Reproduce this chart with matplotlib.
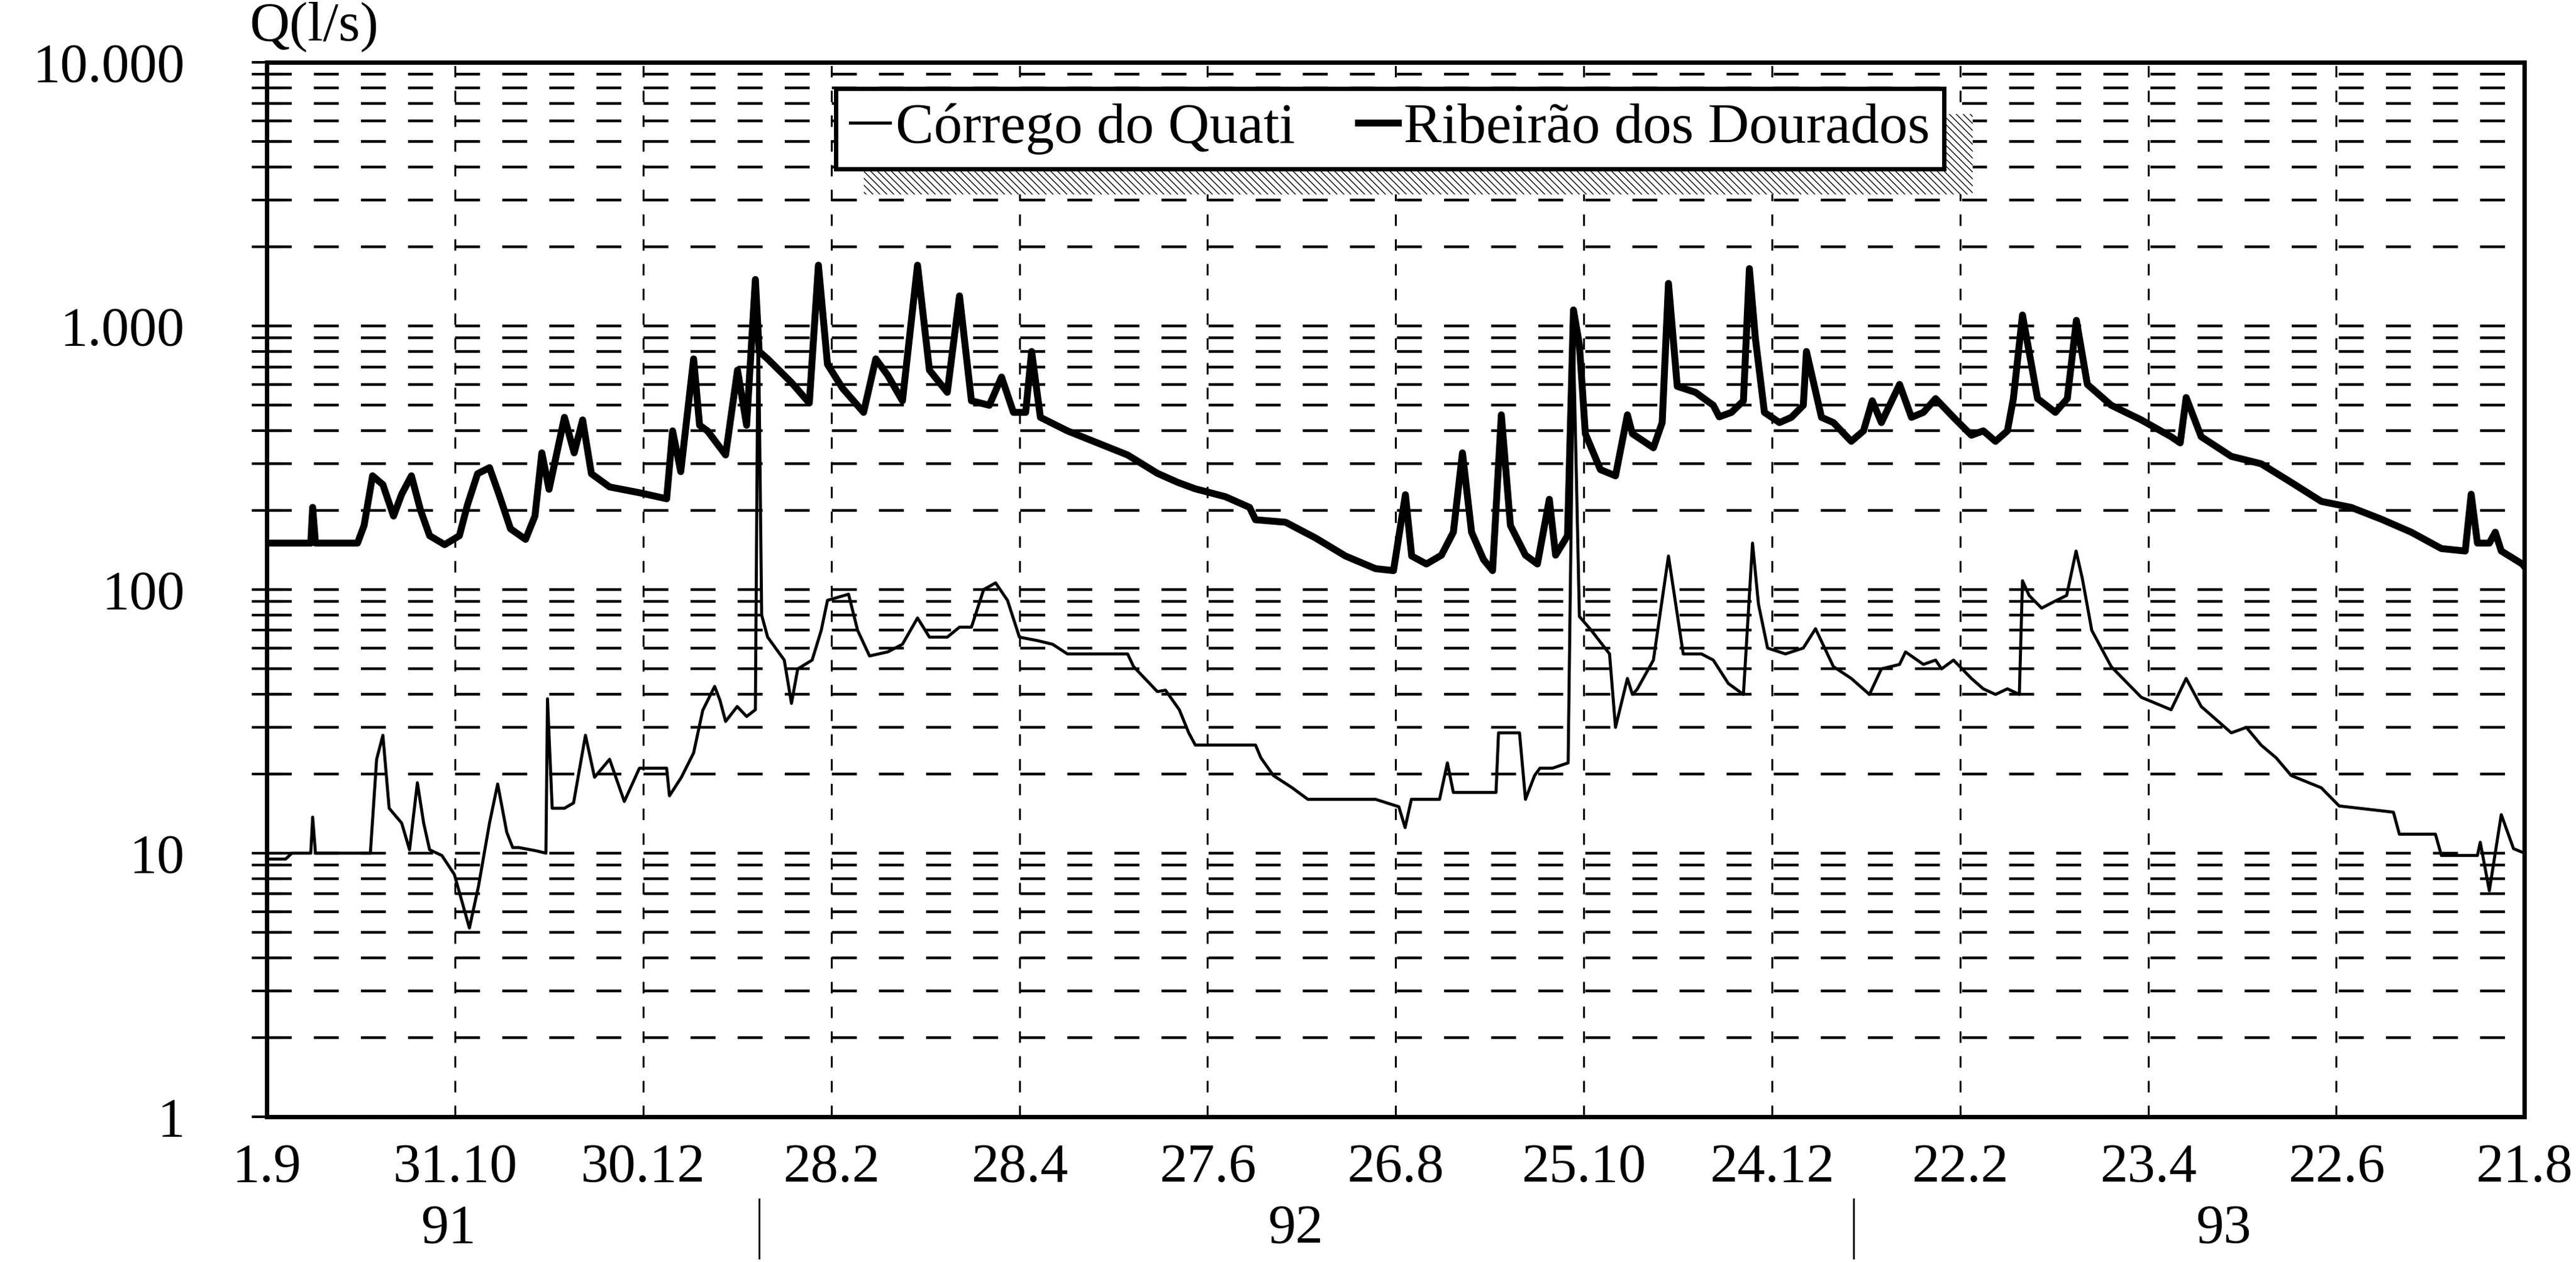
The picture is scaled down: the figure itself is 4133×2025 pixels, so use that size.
import matplotlib.pyplot as plt
import matplotlib.ticker as mticker
from matplotlib.lines import Line2D
from matplotlib.patches import Rectangle
from matplotlib.transforms import blended_transform_factory

plt.rcParams['font.family'] = ['Liberation Serif', 'DejaVu Serif']

# days counted from 1.9.1991
rib_days = [0, 12, 14, 14.6, 15.5, 28.9, 31, 33.7, 37, 40.4, 43, 46.1, 49, 51.9, 56.7,
            61.4, 64, 67.2, 71, 74, 77.7, 82.5, 85.5, 87.7, 90, 94.9, 98, 100.7, 103.5,
            109.3, 118.8, 127.5, 129.4, 132, 136.1, 138, 140.5, 146.3, 150.1, 153, 155.8,
            157, 159.7, 167.3, 173, 175.9, 178.8, 183.6, 190.3, 194.2, 198, 202.7, 207.5,
            211.3, 217, 220.9, 224.7, 230.4, 234.3, 238.1, 242, 243.9, 246.7, 255.3,
            264.9, 274.5, 284, 290.5, 296.1, 305.7, 313.4, 315.3, 324.9, 334.4, 344,
            353.6, 359.3, 363.1, 365.1, 369.8, 374.6, 378.4, 381.3, 384.2, 388, 390.9,
            393.7, 396.6, 401.4, 405.2, 409, 411, 414.8, 416.7, 418.6, 420.5, 425.3,
            430.1, 433.9, 435.5, 442.2, 445, 447, 449.8, 455.6, 461.3, 463.2, 467.1,
            470.9, 472.8, 474.7, 477.6, 482.4, 486.2, 490, 491, 495.8, 499.6, 505.3,
            509.2, 512, 514.9, 520.7, 524.5, 528.3, 532.2, 537.9, 543.6, 547.4, 551.3,
            555.1, 557, 559.9, 564.7, 570.4, 574.2, 577.1, 580.6, 588.2, 597.8, 607.3,
            610.2, 612.1, 616.9, 626.5, 636, 645.6, 655.2, 664.7, 674.3, 683.9, 693.5,
            701.1, 703, 705, 708.8, 710.7, 712.6, 719.3, 720]
rib_q = [150, 150, 150, 205, 150, 150, 175, 270, 250, 190, 230, 270, 200, 160, 148,
         160, 210, 275, 290, 230, 170, 155, 190, 330, 240, 450, 330, 440, 275,
         245, 233, 221, 400, 280, 750, 420, 400, 324, 680, 420, 1500,
         800, 750, 610, 510, 1700, 715, 580, 470, 750, 650, 520, 1700,
         680, 560, 1300, 520, 500, 640, 470, 470, 800, 450, 400,
         360, 324, 276, 255, 241, 225, 205, 184, 180, 157, 134,
         120, 118, 229, 134, 125, 135, 165, 330, 165, 130, 118,
         460, 175, 135, 125, 220, 135, 160, 1150, 850, 390, 285,
         270, 460, 390, 345, 430, 1450, 590, 560, 500, 452, 470,
         520, 1650, 900, 470, 430, 450, 500, 800, 450, 430, 365,
         400, 520, 430, 600, 450, 470, 530, 450, 385, 400, 365,
         400, 530, 1100, 530, 470, 530, 1050, 600, 500, 440, 380,
         360, 535, 380, 320, 300, 255, 216, 205, 185, 165, 143,
         140, 230, 150, 150, 165, 140, 125, 122]

qua_days = [0, 6, 8, 14, 14.6, 15.5, 33, 35, 37, 39, 43, 45.5, 48, 50, 51.9, 55.8,
            59.8, 64.6, 67.5, 71, 73.6, 76.5, 78.4, 80.4, 86, 89, 89.5, 91, 94.9, 97.8,
            101.6, 104.5, 109.3, 114, 118.8, 127.5, 128.4, 132.2, 136.1, 139, 142.8,
            144.5, 146.3, 150, 153, 155.8, 156.7, 157.8, 159.7, 165, 167.3, 169.3,
            173.9, 176.8, 178.8, 185.5, 188.4, 192.2, 198, 202.7, 207.5, 211.3, 217,
            220.9, 224.7, 228.6, 232.4, 236.2, 240, 245.8, 250.6, 255.3, 264.9, 274.5,
            276.4, 284, 286.6, 291, 294, 296.1, 315.3, 317, 321, 327, 332, 353.6, 361,
            363, 365, 374, 376.5, 378.4, 382, 392, 392.8, 399.5, 401.4, 404.3, 406,
            410, 415, 416.7, 418.6, 422.4, 428.2, 430.1, 433.9, 435.5, 437, 442.2, 447,
            451.7, 457.5, 461.3, 466.1, 470.9, 473.8, 475.7, 478.6, 484.3, 490, 493.9,
            499.6, 505.3, 511.1, 514.9, 520.7, 522.6, 528.3, 532.2, 534.1, 537.9,
            543.6, 547.4, 551.3, 555.1, 558.9, 559.9, 562, 566, 570, 574, 577, 579,
            582, 588.2, 597.8, 607.3, 612.1, 616.9, 626.5, 631.3, 636, 640.8, 645.6,
            655.2, 660.9, 678.2, 680.1, 691.6, 693.5, 705, 705.9, 708.8, 712.6, 716.5,
            720]
qua_q = [9.5, 9.5, 10, 10, 13.7, 10, 10, 22.7, 28, 14.8, 13, 10.3, 18.5, 13, 10.3, 9.8,
         8.3, 5.2, 7.5, 13, 18.3, 12, 10.5, 10.5, 10.2, 10, 38.5, 14.8, 14.8, 15.5,
         28, 19.4, 22.7, 15.7, 21, 21, 16.5, 19.4, 24, 34.8, 42.9,
         38, 31.6, 36, 33, 35, 1200, 80, 66, 54, 37, 50,
         54, 70, 91, 96, 70, 56, 58, 62, 78, 66, 66,
         72, 72, 100, 106, 91, 66, 64, 62, 57, 57, 57,
         51, 41, 41.5, 35, 28.6, 25.7, 25.7, 23, 19.7, 17.7, 16, 16, 15,
         12.5, 16, 16, 22, 17, 17, 17, 28.6, 28.6, 16, 19.7, 21,
         21, 22, 870, 79, 70, 57, 30, 46, 40, 41.8, 54, 134,
         57, 57, 54, 44, 40, 150, 88, 60, 57, 60, 71,
         51, 46, 40, 50, 52, 58, 52, 54, 50, 54,
         46, 42, 40, 42, 40, 108, 95, 85, 90, 95, 140, 110,
         70, 51, 39, 35, 46, 36, 28.6, 30, 25.7, 23, 19.7,
         17.7, 15.1, 14.3, 11.8, 11.8, 9.8, 9.8, 11, 7.2, 14, 10.4,
         10]

tick_days = [0, 60, 120, 180, 240, 300, 360, 420, 480, 540, 600, 660, 720]
tick_labels = ['1.9', '31.10', '30.12', '28.2', '28.4', '27.6', '26.8', '25.10',
               '24.12', '22.2', '23.4', '22.6', '21.8']
y_ticks = [1, 10, 100, 1000, 10000]
y_labels = ['1', '10', '100', '1.000', '10.000']
year_labels = ['91', '92', '93']
year_pos = [58, 328, 624]
year_breaks = [157, 506]

FS = 64
fig = plt.figure(figsize=(41.33, 20.25), dpi=100)
ax = fig.add_axes([0.1036, 0.1151, 0.8764, 0.8355])

ax.plot(qua_days, qua_q, color='black', lw=3.5, label='Córrego do Quati')
ax.plot(rib_days, rib_q, color='black', lw=8, label='Ribeirão dos Dourados')

ax.set_yscale('log')
ax.set_ylim(1, 10000)
ax.set_xlim(0, 720)
ax.yaxis.set_major_locator(mticker.FixedLocator(y_ticks))
ax.yaxis.set_major_formatter(mticker.FixedFormatter(y_labels))
ax.yaxis.set_minor_locator(mticker.LogLocator(base=10, subs=range(2, 10), numticks=50))
ax.yaxis.set_minor_formatter(mticker.NullFormatter())
ax.set_xticks(tick_days)
ax.set_xticklabels(tick_labels)

ax.tick_params(axis='y', which='both', direction='inout', length=34, width=3,
               labelsize=FS, pad=78)
ax.tick_params(axis='x', which='major', direction='in', length=12, width=2,
               labelsize=FS, pad=30)

ax.grid(True, which='both', axis='y', color='black', lw=3.2, ls=(0, (9, 8)))
ax.grid(True, which='major', axis='x', color='black', lw=2.2, ls=(0, (6, 7)))

for s in ax.spines.values():
    s.set_linewidth(5)

fig.text(0.122, 0.979, 'Q(l/s)', fontsize=FS, ha='center', va='center')

trans = blended_transform_factory(ax.transData, fig.transFigure)
for d in year_breaks:
    ax.plot([d, d], [0.003, 0.05], transform=trans, clip_on=False, color='black', lw=2)
for d, t in zip(year_pos, year_labels):
    ax.text(d, 0.026, t, transform=trans, ha='center', va='center', fontsize=FS)

handles = [Line2D([], [], color='black', lw=3.5), Line2D([], [], color='black', lw=8)]
leg = ax.legend(handles, ['Córrego do Quati', 'Ribeirão dos Dourados'],
                loc='upper left', bbox_to_anchor=(0.252, 0.975), ncol=2,
                fontsize=FS + 2, handlelength=0.7, handletextpad=0.1, columnspacing=1.1,
                borderpad=0.25, fancybox=False, framealpha=1, edgecolor='black',
                borderaxespad=0)
leg.get_frame().set_linewidth(5)
leg.set_zorder(10)

fig.canvas.draw()
bb = leg.get_window_extent().transformed(fig.transFigure.inverted())
shadow = Rectangle((bb.x0 + 0.011, bb.y0 - 0.02), bb.width, bb.height,
                   transform=fig.transFigure, facecolor='white', edgecolor='black',
                   hatch='\\\\\\', lw=0, zorder=9)
fig.patches.append(shadow)
leg.remove()
fig.legends.append(leg)
leg.set_figure(fig)

fig.savefig('out.png', dpi=100)
